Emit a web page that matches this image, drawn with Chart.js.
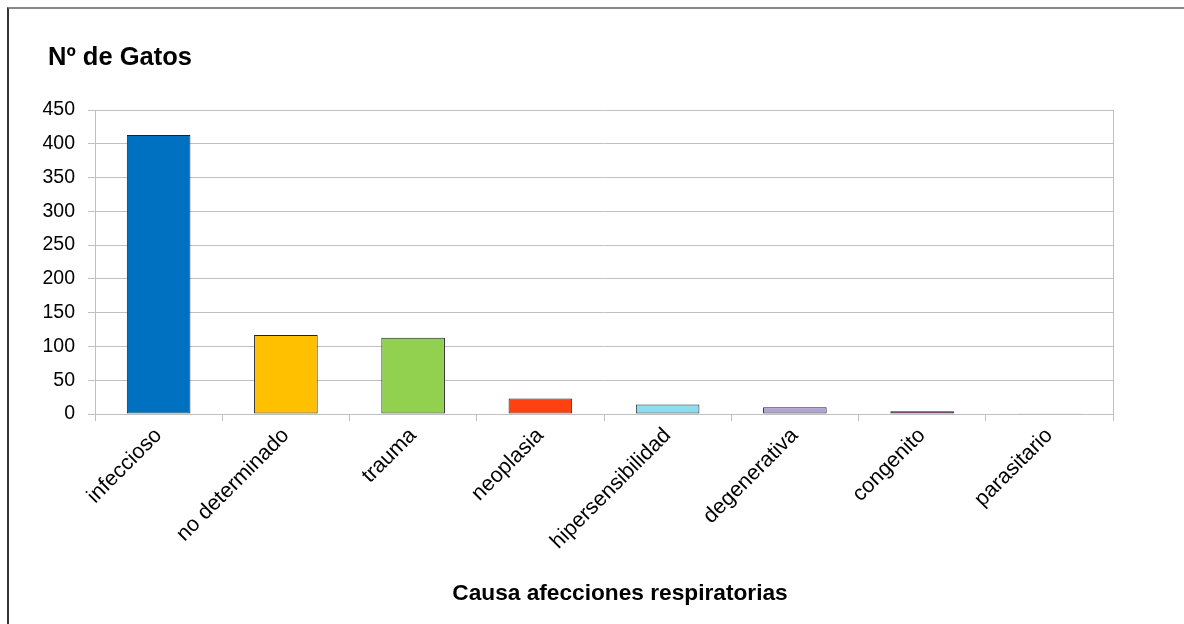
<!DOCTYPE html>
<html>
<head>
<meta charset="utf-8">
<script src="https://cdn.jsdelivr.net/npm/chart.js@4.4.1/dist/chart.umd.min.js"></script>
<style>
  html, body { margin: 0; padding: 0; background: #fff; }
  #wrap { position: relative; width: 1184px; height: 624px; overflow: hidden; }
  #frame {
    position: absolute; left: 7px; top: 7px; width: 1300px; height: 700px;
    border-left: 2px solid #333; border-top: 2px solid #888;
  }
  canvas { position: absolute; left: 0; top: 0; }
</style>
</head>
<body>
<div id="wrap">
  <div id="frame"></div>
  <canvas id="chart" width="1184" height="624"></canvas>
</div>
<script>
const categories = ['infeccioso', 'no determinado', 'trauma', 'neoplasia',
  'hipersensibilidad', 'degenerativa', 'congenito', 'parasitario'];
const gatos = [413, 117, 113, 23, 14, 10, 4, 1];
const barColors = ['#0070C0', '#FFC000', '#92D050', '#FF4010',
  '#8CDDEE', '#B3A2D6', '#CC33CC', '#808080'];
const yTicks = [0, 50, 100, 150, 200, 250, 300, 350, 400, 450];

const yTitle = 'Nº de Gatos';
const xTitle = 'Causa afecciones respiratorias';
const FONT = '"Liberation Sans", Arial, sans-serif';

// titles and the right edge of the plot area
const decor = {
  id: 'decor',
  afterDraw(chart) {
    const { ctx, chartArea } = chart;
    ctx.save();
    ctx.strokeStyle = '#c0c0c0';
    ctx.lineWidth = 1;
    ctx.beginPath();
    ctx.moveTo(Math.round(chartArea.right) + 0.5, chartArea.top);
    ctx.lineTo(Math.round(chartArea.right) + 0.5, chartArea.bottom);
    ctx.stroke();

    ctx.fillStyle = '#000';
    ctx.textBaseline = 'alphabetic';
    ctx.font = 'bold 25.5px ' + FONT;
    ctx.textAlign = 'left';
    ctx.fillText(yTitle, 48, 65);
    ctx.font = 'bold 22.7px ' + FONT;
    ctx.textAlign = 'center';
    ctx.fillText(xTitle, 620, 600);
    ctx.restore();
  }
};

new Chart(document.getElementById('chart'), {
  type: 'bar',
  data: {
    labels: categories,
    datasets: [{
      data: gatos,
      backgroundColor: barColors,
      borderColor: '#222',
      borderWidth: 1,
      borderSkipped: false,
      barPercentage: 0.5,
      categoryPercentage: 1.0
    }]
  },
  options: {
    responsive: false,
    animation: false,
    layout: { padding: { top: 110, right: 71, left: 0, bottom: 0 } },
    plugins: { legend: { display: false }, tooltip: { enabled: false } },
    scales: {
      x: {
        afterFit(scale) { scale.height = 210; },
        grid: { drawOnChartArea: false, color: '#c0c0c0', tickLength: 7, offset: true },
        border: { color: '#c0c0c0' },
        ticks: {
          color: '#000', font: { family: FONT, size: 21.5 },
          minRotation: 45, maxRotation: 45, padding: 2, autoSkip: false
        }
      },
      y: {
        min: 0, max: 450,
        afterFit(scale) { scale.width = 95; },
        afterBuildTicks(scale) { scale.ticks = yTicks.map(v => ({ value: v })); },
        grid: { color: '#c0c0c0', tickLength: 7 },
        border: { color: '#c0c0c0' },
        ticks: { color: '#000', font: { family: FONT, size: 19.5 }, padding: 13 }
      }
    }
  },
  plugins: [decor]
});
</script>
</body>
</html>
